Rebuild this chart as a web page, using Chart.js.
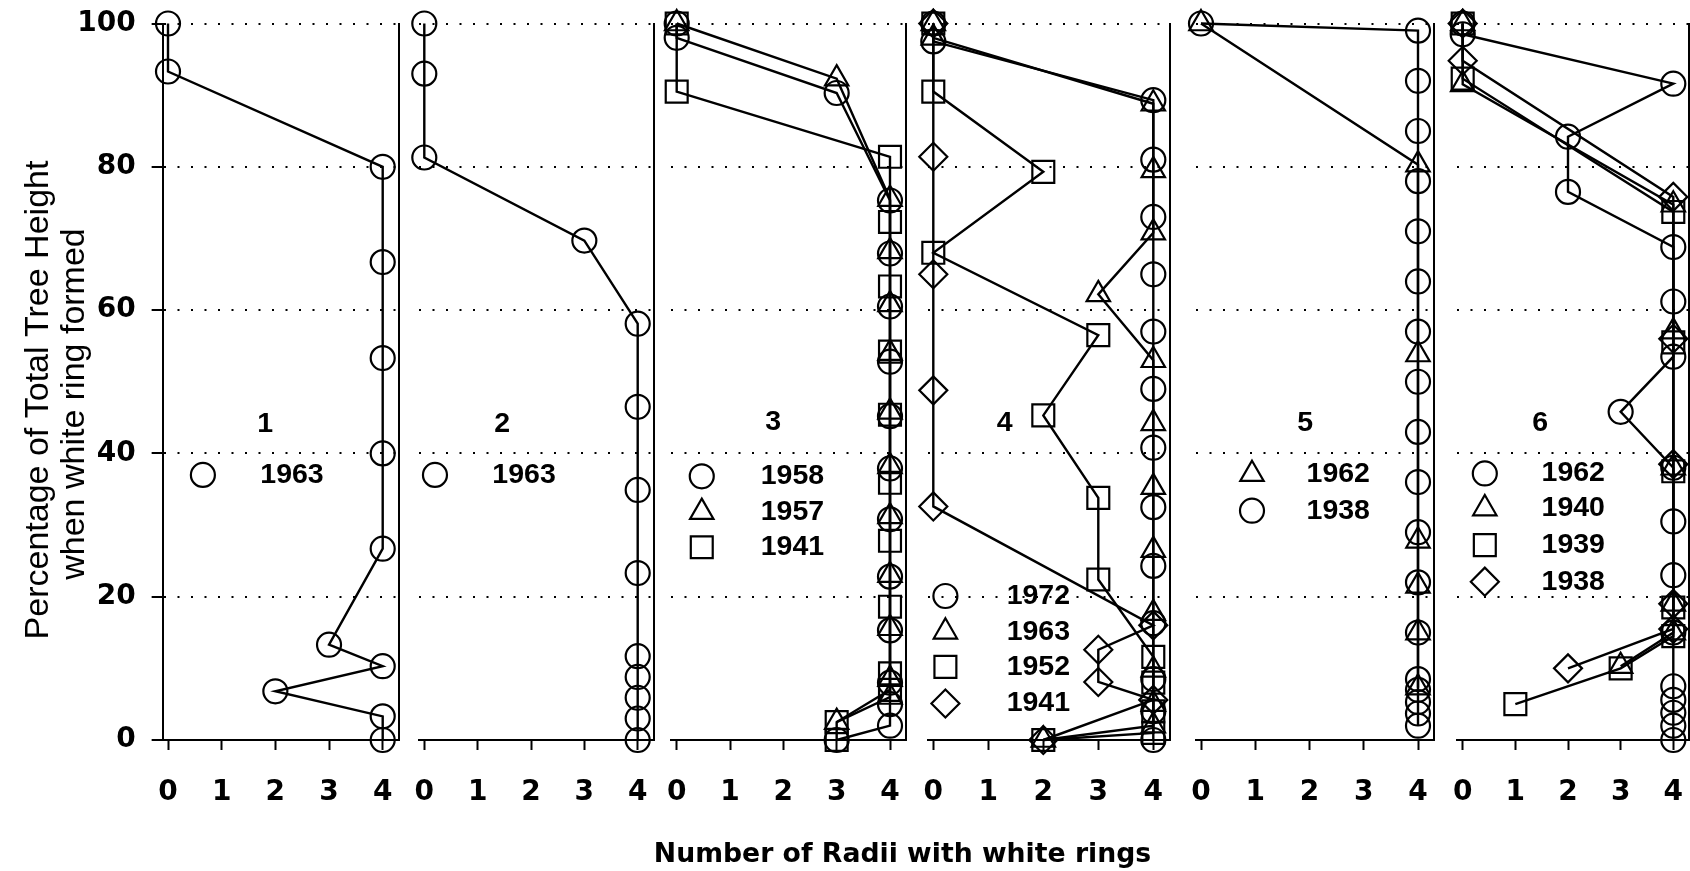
<!DOCTYPE html>
<html><head><meta charset="utf-8">
<script src="https://cdn.jsdelivr.net/npm/chart.js@4.4.1/dist/chart.umd.min.js"></script>
<style>
html,body{margin:0;padding:0;background:#fff;}
#wrap{position:relative;width:1690px;height:871px;overflow:hidden;background:#fff;}
#wrap canvas{position:absolute;left:0;top:0;}
</style></head><body><div id="wrap"></div>
<script>
// ---------- data ----------
const xTicks = [0, 1, 2, 3, 4];
const yTicks = [0, 20, 40, 60, 80, 100];
const panelNames = ['1', '2', '3', '4', '5', '6'];
const yTitleLines = ['Percentage of Total Tree Height', 'when white ring formed'];
const xTitle = 'Number of Radii with white rings';

// Panel 1
const p1_1963_x = [0, 0, 4, 4, 4, 4, 4, 3, 4, 2, 4, 4];
const p1_1963_y = [100, 93.3, 80, 66.7, 53.3, 40, 26.7, 13.3, 10.3, 6.8, 3.3, 0];
// Panel 2
const p2_1963_x = [0, 0, 0, 3, 4, 4, 4, 4, 4, 4, 4, 4, 4];
const p2_1963_y = [100, 93, 81.3, 69.7, 58.1, 46.5, 34.9, 23.3, 11.7, 8.8, 5.9, 3, 0];
// Panel 3
const p3_1958_x = [0, 0, 3, 4, 4, 4, 4, 4, 4, 4, 4, 4, 4, 4, 4, 3];
const p3_1958_y = [100, 98, 90.3, 75.3, 67.9, 60.5, 52.8, 45.2, 37.9, 30.8, 22.8, 15.3, 8, 5, 2, 0];
const p3_1957_x = [0, 3, 4, 4, 4, 4, 4, 4, 4, 4, 4, 4, 4, 3];
const p3_1957_y = [100, 92.3, 75.5, 68.2, 60.8, 54, 45.8, 38.2, 31.2, 23, 15.6, 8.5, 6, 2.5];
const p3_1941_x = [0, 0, 4, 4, 4, 4, 4, 4, 4, 4, 4, 4, 3, 3];
const p3_1941_y = [100, 90.5, 81.4, 72.3, 63.3, 54.2, 45.4, 35.9, 27.8, 18.6, 9.3, 7, 2.5, 0];
// Panel 4
const p4_1972_x = [0, 0, 4, 4, 4, 4, 4, 4, 4, 4, 4, 4, 4, 4, 4];
const p4_1972_y = [100, 97.5, 89.3, 81, 73, 65, 57, 49, 40.8, 32.5, 24.3, 16.3, 8.5, 4, 0];
const p4_1963_x = [0, 0, 4, 4, 4, 3, 4, 4, 4, 4, 4, 4, 4, 4, 2];
const p4_1963_y = [100, 98, 88.8, 79.5, 70.8, 62.2, 53, 44.2, 35.3, 26.5, 17.7, 9.8, 5, 2, 0];
const p4_1952_x = [0, 0, 2, 0, 3, 2, 3, 3, 4, 4, 4, 4, 2];
const p4_1952_y = [100, 90.5, 79.3, 68, 56.5, 45.3, 33.8, 22.4, 11.6, 8, 4, 1, 0];
const p4_1941_x = [0, 0, 0, 0, 0, 4, 3, 3, 4, 2];
const p4_1941_y = [100, 81.4, 65, 48.8, 32.6, 16, 12.6, 8.1, 5.6, 0];
// Panel 5
const p5_1962_x = [0, 4, 4, 4, 4, 4, 4];
const p5_1962_y = [100, 80.3, 53.8, 27.8, 21.5, 15, 7.3];
const p5_1938_x = [0, 4, 4, 4, 4, 4, 4, 4, 4, 4, 4, 4, 4, 4, 4, 4, 4, 4, 4];
const p5_1938_y = [100, 99, 92, 85, 78, 71, 64, 57, 50, 43, 36, 29, 22, 15, 8.5, 7, 5.3, 3.7, 2, 0.3];
// Panel 6
const p6_1962_x = [0, 0, 4, 2, 2, 4, 4, 4, 3, 4, 4, 4, 4, 4, 4, 4, 4, 4];
const p6_1962_y = [100, 98.5, 91.6, 84.2, 76.5, 68.8, 61.2, 53.5, 45.8, 38, 30.5, 23, 15, 7.5, 5.6, 3.8, 2, 0];
const p6_1940_x = [0, 0, 4, 4, 4, 4, 4, 3];
const p6_1940_y = [100, 91.5, 74.7, 57, 38, 19, 15, 10.3];
const p6_1939_x = [0, 0, 4, 4, 4, 4, 4, 3, 1];
const p6_1939_y = [100, 92.3, 73.7, 55.5, 37.5, 18.5, 14.5, 10, 5];
const p6_1938_x = [0, 0, 4, 4, 4, 4, 4, 2];
const p6_1938_y = [100, 94.8, 75.8, 56, 38.5, 19, 15.5, 10];

// ---------- structure built from the arrays ----------
const panels = [
  [{label: '1963', style: 'circle', x: p1_1963_x, y: p1_1963_y}],
  [{label: '1963', style: 'circle', x: p2_1963_x, y: p2_1963_y}],
  [{label: '1958', style: 'circle', x: p3_1958_x, y: p3_1958_y},
   {label: '1957', style: 'triangle', x: p3_1957_x, y: p3_1957_y},
   {label: '1941', style: 'square', x: p3_1941_x, y: p3_1941_y}],
  [{label: '1972', style: 'circle', x: p4_1972_x, y: p4_1972_y},
   {label: '1963', style: 'triangle', x: p4_1963_x, y: p4_1963_y},
   {label: '1952', style: 'square', x: p4_1952_x, y: p4_1952_y},
   {label: '1941', style: 'diamond', x: p4_1941_x, y: p4_1941_y}],
  [{label: '1962', style: 'triangle', x: p5_1962_x, y: p5_1962_y},
   {label: '1938', style: 'circle', x: p5_1938_x, y: p5_1938_y}],
  [{label: '1962', style: 'circle', x: p6_1962_x, y: p6_1962_y},
   {label: '1940', style: 'triangle', x: p6_1940_x, y: p6_1940_y},
   {label: '1939', style: 'square', x: p6_1939_x, y: p6_1939_y},
   {label: '1938', style: 'diamond', x: p6_1938_x, y: p6_1938_y}]
];

// ---------- layout / style ----------
const W = 1690, H = 871;
const XMIN = -0.1, XMAX = 4.3;
const YTOP = 23.5, YBOT = 740;
const panelGeom = [[168, 382.7], [424.3, 637.7], [676.7, 890], [933.3, 1153.3], [1201, 1418], [1462.7, 1673.3]];
const panelLayout = [
  {num: [1.81, 44.1], symX: 0.65, txtX: 2.31, rows: [37.0]},
  {num: [1.46, 44.1], symX: 0.20, txtX: 1.87, rows: [37.0]},
  {num: [1.81, 44.3], symX: 0.47, txtX: 2.17, rows: [36.8, 31.8, 26.9]},
  {num: [1.30, 44.2], symX: 0.22, txtX: 1.91, rows: [20.1, 15.1, 10.2, 5.1]},
  {num: [1.92, 44.2], symX: 0.94, txtX: 2.53, rows: [37.1, 32.0]},
  {num: [1.47, 44.2], symX: 0.42, txtX: 2.10, rows: [37.2, 32.3, 27.2, 22.1]}
];
const STY = {
  circle: {pointStyle: 'circle', radius: 12},
  triangle: {pointStyle: 'triangle', radius: 13.5},
  square: {pointStyle: 'rect', radius: 15.5},
  diamond: {pointStyle: 'rectRot', radius: 14}
};
const LINE_W = 2.4, MARK_W = 2.2;
const TICK_FONT = {family: "'DejaVu Sans', sans-serif", weight: 'bold', size: 28};
const LEG_FONT = 'bold 28.5px "Liberation Sans", Arial, sans-serif';

function noPad(s) { s.paddingTop = 0; s.paddingBottom = 0; s.paddingLeft = 0; s.paddingRight = 0; }

function drawSym(ctx, style, x, y) {
  const st = STY[style];
  const r = st.radius;
  ctx.save();
  ctx.strokeStyle = '#000';
  ctx.lineWidth = MARK_W;
  ctx.beginPath();
  if (st.pointStyle === 'circle') {
    ctx.arc(x, y, r, 0, Math.PI * 2);
  } else if (st.pointStyle === 'triangle') {
    for (let k = 0; k < 3; k++) {
      const a = k * 2 * Math.PI / 3;
      const px = x + Math.sin(a) * r, py = y - Math.cos(a) * r;
      if (k === 0) ctx.moveTo(px, py); else ctx.lineTo(px, py);
    }
    ctx.closePath();
  } else if (st.pointStyle === 'rect') {
    const s = Math.SQRT1_2 * r;
    ctx.rect(x - s, y - s, 2 * s, 2 * s);
  } else {
    ctx.moveTo(x - r, y); ctx.lineTo(x, y - r); ctx.lineTo(x + r, y); ctx.lineTo(x, y + r); ctx.closePath();
  }
  ctx.stroke();
  ctx.restore();
}

function textPlugin(i) {
  return {
    id: 'panelText' + i,
    afterDraw(chart) {
      const ctx = chart.ctx, xs = chart.scales.x, ys = chart.scales.y;
      const lay = panelLayout[i];
      ctx.save();
      ctx.fillStyle = '#000';
      ctx.font = LEG_FONT;
      ctx.textAlign = 'center';
      ctx.textBaseline = 'middle';
      ctx.fillText(panelNames[i], xs.getPixelForValue(lay.num[0]), ys.getPixelForValue(lay.num[1]));
      panels[i].forEach((s, k) => {
        const py = ys.getPixelForValue(lay.rows[k]);
        drawSym(ctx, s.style, xs.getPixelForValue(lay.symX), py);
        ctx.fillText(s.label, xs.getPixelForValue(lay.txtX), py);
      });
      if (i === 0) {
        ctx.font = '34px "Liberation Sans", Arial, sans-serif';
        [[38.5, 400], [75, 404]].forEach((pos, k) => {
          ctx.save();
          ctx.translate(pos[0], pos[1]);
          ctx.rotate(-Math.PI / 2);
          ctx.fillText(yTitleLines[k], 0, 0);
          ctx.restore();
        });
        ctx.font = "bold 26.7px 'DejaVu Sans', sans-serif";
        ctx.fillText(xTitle, 902.5, 855);
      }
      ctx.restore();
    }
  };
}

const wrap = document.getElementById('wrap');
panels.forEach((series, i) => {
  const canvas = document.createElement('canvas');
  canvas.width = W; canvas.height = H;
  canvas.style.width = W + 'px'; canvas.style.height = H + 'px';
  wrap.appendChild(canvas);
  const [x0, x4] = panelGeom[i];
  const u = (x4 - x0) / 4;
  const L = x0 + XMIN * u, R = x0 + XMAX * u;
  const yW = i === 0 ? L : 0;
  new Chart(canvas, {
    type: 'line',
    data: {
      datasets: series.map(s => ({
        label: s.label,
        data: s.x.map((xv, k) => ({x: xv, y: s.y[k]})),
        borderColor: '#000',
        borderWidth: LINE_W,
        backgroundColor: 'rgba(0,0,0,0)',
        fill: false,
        tension: 0,
        clip: false,
        pointStyle: STY[s.style].pointStyle,
        pointRadius: STY[s.style].radius,
        pointHoverRadius: STY[s.style].radius,
        pointBorderWidth: MARK_W,
        pointBorderColor: '#000',
        pointBackgroundColor: 'rgba(0,0,0,0)'
      }))
    },
    options: {
      responsive: false,
      animation: false,
      devicePixelRatio: 1,
      events: [],
      layout: {autoPadding: false, padding: {left: L - yW, right: W - R, top: YTOP, bottom: 0}},
      plugins: {legend: {display: false}, tooltip: {enabled: false}},
      scales: {
        x: {
          type: 'linear', position: 'bottom', min: XMIN, max: XMAX,
          afterFit: s => { s.height = H - YBOT; noPad(s); },
          afterBuildTicks: s => { s.ticks = xTicks.map(v => ({value: v})); },
          ticks: {font: TICK_FONT, color: '#000', padding: 26, maxRotation: 0, autoSkip: false},
          grid: {drawOnChartArea: false, drawTicks: true, tickLength: 10, tickWidth: 2, tickColor: '#000', tickBorderDash: []},
          border: {display: true, color: '#000', width: 2}
        },
        y: {
          type: 'linear', position: 'left', min: 0, max: 100,
          afterFit: s => { s.width = yW; noPad(s); },
          afterBuildTicks: s => { s.ticks = yTicks.map(v => ({value: v})); },
          ticks: {display: i === 0, font: TICK_FONT, color: '#000', padding: 16},
          grid: {color: '#000', lineWidth: 2, drawTicks: i === 0, tickLength: 11, tickWidth: 2, tickColor: '#000', tickBorderDash: []},
          border: {display: i === 0, color: '#000', width: 2, dash: [2, 11.5]}
        },
        yr: {
          type: 'linear', position: 'right', min: 0, max: 100,
          afterFit: s => { s.width = 0; noPad(s); },
          ticks: {display: false},
          grid: {display: false},
          border: {display: true, color: '#000', width: 2}
        }
      }
    },
    plugins: [textPlugin(i)]
  });
});
</script>
</body></html>
